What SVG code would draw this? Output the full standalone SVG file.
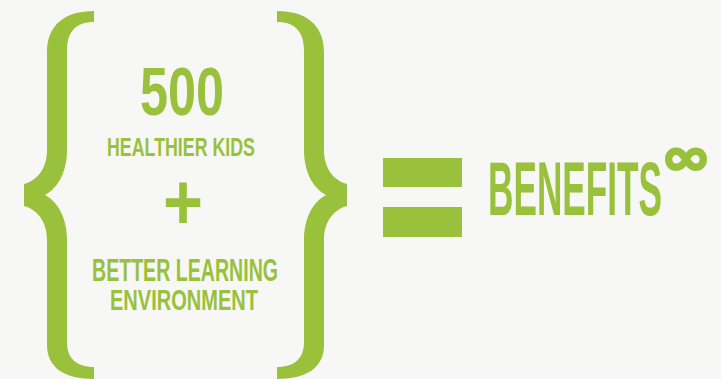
<svg xmlns="http://www.w3.org/2000/svg" width="721" height="379" viewBox="0 0 721 379">
<defs>
<style>
.g{fill:#99c13c}
.t{fill:#99c13c;font-family:"Liberation Sans Narrow","Liberation Sans",Arial,sans-serif;font-weight:bold;text-anchor:middle}
.inf{fill:#99c13c;stroke:#99c13c;stroke-width:2.5;stroke-linejoin:round;font-family:"DejaVu Sans",sans-serif;font-weight:bold;text-anchor:middle}
</style>
<path id="brace" d="M 94 11 C 65 11, 47 25, 47 52 L 47 150 C 47 168, 38 180, 24 184 L 24 206 C 38 210, 47 222, 47 240 L 47 345 C 47 368, 65 379, 94 379 L 94 367 C 76 367, 67 358, 67 342 L 67 240 C 67 218, 58 202, 45 195 C 58 188, 67 172, 67 150 L 67 50 C 67 32, 76 22, 94 22 Z"/>
</defs>
<rect width="721" height="379" fill="#f7f7f6"/>
<g id="left-brace"><use href="#brace" class="g"/></g>
<g id="right-brace"><use href="#brace" class="g" transform="translate(371,0) scale(-1,1)"/></g>
<g id="inputs">
<text class="t" x="182" y="115" font-size="68" textLength="84" lengthAdjust="spacingAndGlyphs">500</text>
<text class="t" x="181" y="156" font-size="26" textLength="148" lengthAdjust="spacingAndGlyphs">HEALTHIER KIDS</text>
<text class="t" x="183" y="229" font-size="80" textLength="40" lengthAdjust="spacingAndGlyphs">+</text>
<text class="t" x="185" y="281" font-size="32" textLength="186" lengthAdjust="spacingAndGlyphs">BETTER LEARNING</text>
<text class="t" x="184" y="310" font-size="30" textLength="148" lengthAdjust="spacingAndGlyphs">ENVIRONMENT</text>
</g>
<g id="equals">
<rect class="g" x="383" y="158" width="79" height="29"/>
<rect class="g" x="383" y="207" width="79" height="30"/>
</g>
<g id="result">
<text class="t" x="575" y="215" font-size="76" textLength="174" lengthAdjust="spacingAndGlyphs">BENEFITS</text>
<text class="inf" x="686" y="174" font-size="50" textLength="50" lengthAdjust="spacingAndGlyphs">∞</text>
</g>
</svg>
